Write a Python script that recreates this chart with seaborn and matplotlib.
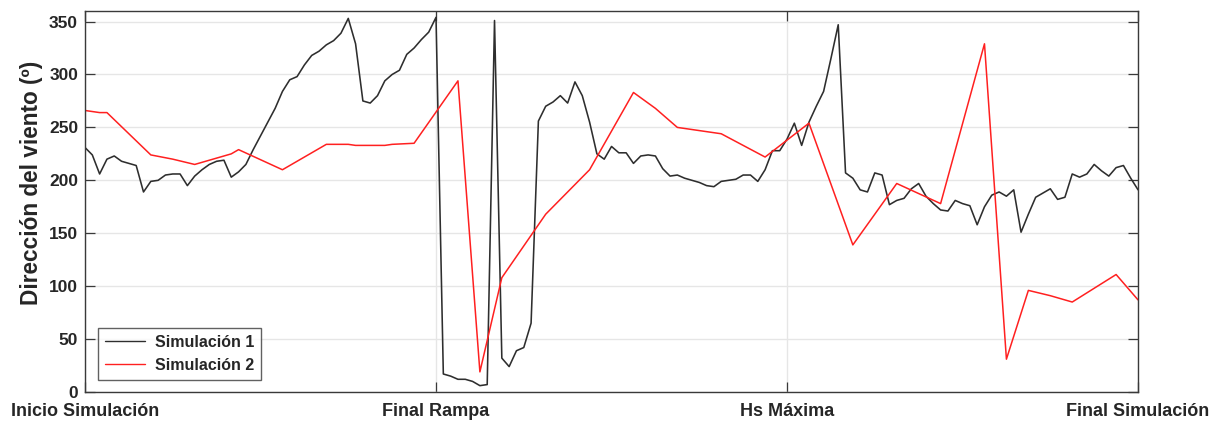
import numpy as np
import pandas as pd
import matplotlib
matplotlib.use("Agg")
import matplotlib.pyplot as plt
import seaborn as sns

# ---------------- data ----------------
# Simulación 1: regular sampling, 48 samples per phase (145 points)
sim1_values = [
    231, 224, 206, 220, 223, 218, 216, 214, 189, 199, 200, 205, 206, 206, 195, 204,
    210, 215, 218, 219, 203, 208, 215, 229, 242, 255, 268, 284, 295, 298, 309, 318,
    322, 328, 332, 339, 353, 329, 275, 273, 280, 294, 300, 304, 319, 325, 333, 340,
    354, 17, 15, 12, 12, 10, 6, 7, 351, 32, 24, 39, 42, 65, 256, 270,
    274, 280, 273, 293, 280, 255, 225, 220, 232, 226, 226, 216, 223, 224, 223, 211,
    204, 205, 202, 200, 198, 195, 194, 199, 200, 201, 205, 205, 199, 210, 228, 228,
    239, 254, 233, 255, 270, 284, 315, 347, 207, 202, 191, 189, 207, 205, 177, 181,
    183, 192, 197, 185, 178, 172, 171, 181, 178, 176, 158, 175, 186, 189, 185, 191,
    151, 168, 184, 188, 192, 182, 184, 206, 203, 206, 215, 209, 204, 212, 214, 202,
    191,
]
sim1_index = list(range(len(sim1_values)))

# Simulación 2: vertices (sample index, value)
sim2_index = [0, 2, 3, 9, 12, 15, 18, 20, 21, 27, 33, 36, 37, 41, 42, 45, 51, 54, 57,
              63, 69, 75, 78, 81, 87, 93, 99, 105, 111, 117, 123, 126, 129, 132, 135,
              141, 144]
sim2_values = [266, 264, 264, 224, 220, 215, 221, 225, 229, 210, 234, 234, 233, 233,
               234, 235, 294, 19, 108, 168, 210, 283, 268, 250, 244, 222, 254, 139,
               197, 178, 329, 31, 96, 91, 85, 111, 87]

samples_per_phase = 48
tick_labels = ["Inicio Simulación", "Final Rampa", "Hs Máxima", "Final Simulación"]
y_ticks = [0, 50, 100, 150, 200, 250, 300, 350]
series_names = ["Simulación 1", "Simulación 2"]

df1 = pd.DataFrame({"x": np.array(sim1_index) / samples_per_phase,
                    "y": sim1_values, "serie": series_names[0]})
df2 = pd.DataFrame({"x": np.array(sim2_index) / samples_per_phase,
                    "y": sim2_values, "serie": series_names[1]})

# ---------------- style ----------------
sns.set_theme(style="white")
plt.rcParams["font.family"] = ["Liberation Sans", "DejaVu Sans"]
plt.rcParams["font.weight"] = "bold"

txt_color = "#262626"
fig = plt.figure(figsize=(12.16, 4.21), dpi=100)
ax = fig.add_axes([0.0699, 0.0689, 0.8660, 0.9050])

sns.lineplot(data=df1, x="x", y="y", ax=ax, color="#2e2e2e", linewidth=1.15,
             estimator=None, sort=False, label=series_names[0])
sns.lineplot(data=df2, x="x", y="y", ax=ax, color="#ff2020", linewidth=1.1,
             estimator=None, sort=False, label=series_names[1])

ax.set_xlim(0, 3)
ax.set_ylim(0, 360)
ax.set_xticks(range(len(tick_labels)))
ax.set_xticklabels(tick_labels)
ax.set_yticks(y_ticks)
ax.grid(True, color="#e6e6e6", linewidth=1.0)
ax.set_axisbelow(True)

ax.set_xlabel("")
ax.set_ylabel("Dirección del viento (º)", fontsize=16.3, fontweight="bold",
              color=txt_color)
ax.yaxis.set_label_coords(-0.040, 0.549)

ax.tick_params(axis="both", direction="in", length=7, width=0.9, color="#3a3a3a",
               labelcolor=txt_color, top=True, right=True,
               bottom=True, left=True)
ax.tick_params(axis="x", pad=8, labelsize=13)
ax.tick_params(axis="y", pad=5, labelsize=12.5)
for lbl in ax.get_xticklabels() + ax.get_yticklabels():
    lbl.set_fontweight("bold")

for sp in ax.spines.values():
    sp.set_color("#3a3a3a")
    sp.set_linewidth(1.0)
    sp.set_visible(True)

leg = ax.legend(loc="lower left", bbox_to_anchor=(0.0123, 0.0315), frameon=True,
                fancybox=False, edgecolor="#3a3a3a", fontsize=11.5,
                handlelength=2.5, borderpad=0.45, labelspacing=0.5,
                handletextpad=0.6, borderaxespad=0.0)
leg.get_frame().set_linewidth(1.0)
for t in leg.get_texts():
    t.set_fontweight("bold")
    t.set_color(txt_color)
for l in leg.get_lines():
    l.set_linewidth(1.0)

fig.savefig("out.png", dpi=100)
